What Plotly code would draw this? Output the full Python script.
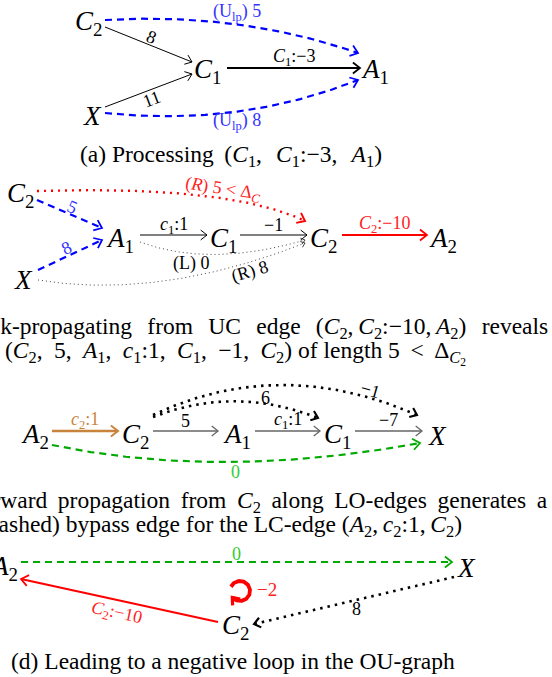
import numpy as np
import plotly.graph_objects as go

W, H = 552, 677

# ------------------------------------------------------------------ data
NODE_TEXT = {
    "C1": "<i>C</i><sub>1</sub>", "C2": "<i>C</i><sub>2</sub>", "C2a": "<i>C</i><sub>2</sub>",
    "A1": "<i>A</i><sub>1</sub>", "A2": "<i>A</i><sub>2</sub>", "X": "<i>X</i>",
}

# panel (a)
A_SRC = ["C2", "X", "C1", "C2", "X"]
A_DST = ["C1", "C1", "A1", "A1", "A1"]
A_W = [8, 11, -3, 5, 8]
A_PREFIX = ["", "", "<i>C</i><sub>1</sub>:", "(U<sub>lp</sub>) ", "(U<sub>lp</sub>) "]
A_SUFFIX = ["", "", "", "", ""]

# panel (b)
B_SRC = ["C2a", "X", "A1", "C1", "C2", "C2a", "A1", "X"]
B_DST = ["A1", "A1", "C1", "C2", "A2", "C2", "C2", "C2"]
B_W = [5, 8, 1, -1, -10, 5, 0, 8]
B_PREFIX = ["", "", "<i>c</i><sub>1</sub>:", "", "<i>C</i><sub>2</sub>:", "(<i>R</i>) ", "(L) ", "(R) "]
B_SUFFIX = ["", "", "", "", "", " &lt; Δ<sub><i>C</i></sub>", "", ""]

# panel (c)
C_SRC = ["A2", "C2", "A1", "C1", "C2", "C2", "A2"]
C_DST = ["C2", "A1", "C1", "X", "C1", "X", "X"]
C_W = [1, 5, 1, -7, 6, -1, 0]
C_PREFIX = ["<i>c</i><sub>2</sub>:", "", "<i>c</i><sub>1</sub>:", "", "", "", ""]
C_SUFFIX = ["", "", "", "", "", "", ""]

# panel (d)
D_SRC = ["A2", "C2", "X"]
D_DST = ["X", "A2", "C2"]
D_W = [0, -10, 8]
D_PREFIX = ["", "<i>C</i><sub>2</sub>:", ""]
D_SUFFIX = ["", "", ""]
D_LOOP_NODE = "C2"
D_LOOP_W = -2

TS = "\u2009"            # thin space (math spacing)
HS = "\u200a"            # hair space
SP = " \u2009"           # justified (stretched) word space
SP2 = " \u2009\u2009"    # more stretched word space
MC = "," + TS * 2 + HS   # math comma
CAPTIONS = [
    "(a) Processing" + TS + " (<i>C</i><sub>1</sub>," + TS * 3 + "<i>C</i><sub>1</sub>:−3," + TS * 3
    + "<i>A</i><sub>1</sub>)",
    SP2.join(["(b)", "Back-propagating", "from", "UC", "edge",
              "(<i>C</i><sub>2</sub>," + TS + "<i>C</i><sub>2</sub>:−10," + TS + "<i>A</i><sub>2</sub>)",
              "reveals"]),
    "(<i>C</i><sub>2</sub>" + MC + "5" + MC + "<i>A</i><sub>1</sub>" + MC + "<i>c</i><sub>1</sub>:1"
    + MC + "<i>C</i><sub>1</sub>" + MC + "−1" + MC + "<i>C</i><sub>2</sub>) of length 5" + SP + "&lt;"
    + SP + "Δ<sub><i>C</i><sub>2</sub></sub>",
    SP.join(["(c)", "Forward", "propagation", "from", "<i>C</i><sub>2</sub>", "along", "LO-edges",
             "generates", "a"]),
    "(dashed) bypass edge for the LC-edge (<i>A</i><sub>2</sub>," + TS + "<i>c</i><sub>2</sub>:1,"
    + TS + "<i>C</i><sub>2</sub>)",
    "(d) Leading to a negative loop in the OU-graph",
]

# ------------------------------------------------------------------ layout (positions / styles)
POS_A = {"C2": (88, 20), "C1": (207, 68), "A1": (375, 68), "X": (92, 113)}
POS_B = {"C2a": (20, 192), "A1": (120, 237), "C1": (223, 237), "C2": (323, 237),
         "A2": (443, 237), "X": (23, 277)}
POS_C = {"A2": (35, 433), "C2": (135, 433), "A1": (237, 433), "C1": (337, 433), "X": (437, 433)}
POS_D = {"A2": (4, 565), "X": (466, 565), "C2": (235, 624)}

# per edge: start offset, end offset, control offset (from chord mid), style,
#           label t, label distance, sloped
GEO_A = [
    ((17, 7), (-15, -6), (0, 0), "thin", 0.5, 8, True),
    ((13, -6), (-15, 6), (0, 0), "thin", 0.5, -9, True),
    ((20, 0), (-15, 0), (0, 0), "thick", 0.5, 11, False),
    ((17, 0), (-17, -15), (8.5, -24.5), "blue", 0.5, 12, False),
    ((13, 0), (-17, 12), (8.5, 30.5), "blue", 0.5, -10, False),
]
GEO_B = [
    ((17, 8), (-18, -9), (0, 0), "blue", 0.5, 8, True),
    ((15, -7), (-18, 3), (0, 0), "blue", 0.5, 8, True),
    ((20, -2), (-16, -2), (0, 0), "thin", 0.5, 10, False),
    ((17, -2), (-16, -2), (0, 0), "thin", 0.5, 10, False),
    ((19, -2), (-16, -2), (0, 0), "red", 0.5, 11, False),
    ((17, -1), (-18, -16), (59, -21), "reddot", 0.58, 9, True),
    ((20, 5), (-18, 3), (-12.5, 27), "graydot", 0.35, -10, False),
    ((15, 3), (-18, 6), (-11.5, 38.5), "graydot", 0.8, -9, True),
]
GEO_C = [
    ((17, -2), (-17, -2), (0, 0), "peru", 0.5, 11, False),
    ((18, -2), (-19, -2), (0, 0), "gray", 0.5, 10, False),
    ((18, -2), (-17, -2), (0, 0), "gray", 0.5, 11, False),
    ((18, -2), (-15, -2), (0, 0), "gray", 0.5, 11, False),
    ((18, -16), (-19, -15), (-0.5, -32.5), "blackdot", 0.68, 6, False),
    ((18, -18), (-20, -18), (-5, -60), "blackdot", 0.82, 8, True),
    ((17, 12), (-17, 10), (-16, 36), "green", 0.52, -10, False),
]
GEO_D = [
    ((17, -3), (-14, -3), (0, 0), "green", 0.5, 8, False),
    ((-17, -2), (17, 14), (0, 0), "red", 0.5, 13, True),
    ((-12, 12), (19, 0), (0, 0), "blackdot", 0.5, 9, False),
]
LOOP_OFF = (5, -33)
LOOP_R = 10

STYLES = {
    "thin": dict(color="#000000", width=1.0, dash="solid", head=8, text="#000000"),
    "thick": dict(color="#000000", width=2.2, dash="solid", head=9, text="#000000"),
    "blue": dict(color="#0000FF", width=2.2, dash="7px,5px", head=9, text="#3333FF"),
    "red": dict(color="#FF0000", width=2.2, dash="solid", head=9, text="#FF2222"),
    "reddot": dict(color="#FF0000", width=2.4, dash="2px,5px", head=9, text="#FF2222"),
    "graydot": dict(color="#444444", width=1.0, dash="1px,3px", head=5, text="#000000"),
    "peru": dict(color="#C8843C", width=2.5, dash="solid", head=9, text="#C8843C"),
    "gray": dict(color="#666666", width=1.6, dash="solid", head=8, text="#000000"),
    "blackdot": dict(color="#000000", width=2.6, dash="2.5px,5px", head=8, text="#000000"),
    "green": dict(color="#00AA00", width=2.2, dash="7px,5px", head=9, text="#33CC33"),
}

SERIF = "Liberation Serif"
NODE_SIZE = 27
LABEL_SIZE = 18
CAP_SIZE = 23.5


def fmt(w):
    return ("−" + str(abs(w))) if w < 0 else str(w)


def bez(P0, P1, P2, n=80):
    t = np.linspace(0, 1, n)[:, None]
    return (1 - t) ** 2 * P0 + 2 * (1 - t) * t * P1 + t ** 2 * P2


def rot(v, a):
    c, s = np.cos(a), np.sin(a)
    return np.array([c * v[0] - s * v[1], s * v[0] + c * v[1]])


fig = go.Figure()
annotations = []


def add_head(tip, u, st):
    L = st["head"]
    a = np.radians(38)
    l = tip - L * rot(u, a)
    r = tip - L * rot(u, -a)
    fig.add_trace(go.Scatter(x=[l[0], tip[0], r[0]], y=[l[1], tip[1], r[1]], mode="lines",
                             line=dict(color=st["color"], width=max(1.0, st["width"] * 0.8)),
                             hoverinfo="skip"))


def draw_panel(pos, src, dst, wts, pre, suf, geo):
    for name, (x, y) in pos.items():
        annotations.append(dict(x=x, y=y, text=NODE_TEXT[name], showarrow=False,
                                font=dict(family=SERIF, size=NODE_SIZE, color="#000"),
                                xanchor="center", yanchor="middle", yshift=-3))
    for s, d, w, p, sf, g in zip(src, dst, wts, pre, suf, geo):
        so, eo, co, sname, lt, ld, sloped = g
        st = STYLES[sname]
        P0 = np.array(pos[s], float) + np.array(so, float)
        P2 = np.array(pos[d], float) + np.array(eo, float)
        P1 = (P0 + P2) / 2 + np.array(co, float)
        pts = bez(P0, P1, P2)
        fig.add_trace(go.Scatter(x=pts[:, 0], y=pts[:, 1], mode="lines",
                                 line=dict(color=st["color"], width=st["width"], dash=st["dash"]),
                                 hoverinfo="skip"))
        tv = P2 - P1
        add_head(P2, tv / np.linalg.norm(tv), st)
        t = lt
        B = (1 - t) ** 2 * P0 + 2 * (1 - t) * t * P1 + t ** 2 * P2
        dv = 2 * (1 - t) * (P1 - P0) + 2 * t * (P2 - P1)
        u = dv / np.linalg.norm(dv)
        n = np.array([u[1], -u[0]])
        L = B + ld * n
        ang = np.degrees(np.arctan2(u[1], u[0]))
        if ang > 90:
            ang -= 180
        if ang < -90:
            ang += 180
        annotations.append(dict(x=L[0], y=L[1], text=p + fmt(w) + sf, showarrow=False,
                                textangle=ang if sloped else 0,
                                font=dict(family=SERIF, size=LABEL_SIZE, color=st["text"]),
                                xanchor="center", yanchor="middle"))


draw_panel(POS_A, A_SRC, A_DST, A_W, A_PREFIX, A_SUFFIX, GEO_A)
draw_panel(POS_B, B_SRC, B_DST, B_W, B_PREFIX, B_SUFFIX, GEO_B)
draw_panel(POS_C, C_SRC, C_DST, C_W, C_PREFIX, C_SUFFIX, GEO_C)
draw_panel(POS_D, D_SRC, D_DST, D_W, D_PREFIX, D_SUFFIX, GEO_D)

# negative self-loop in panel (d)
c = np.array(POS_D[D_LOOP_NODE], float) + np.array(LOOP_OFF, float)
th = np.radians(np.linspace(205, 500, 80))
fig.add_trace(go.Scatter(x=c[0] + LOOP_R * np.cos(th), y=c[1] + LOOP_R * np.sin(th), mode="lines",
                         line=dict(color="#FF0000", width=3.8), hoverinfo="skip"))
te = th[-1]
tip = c + LOOP_R * np.array([np.cos(te), np.sin(te)])
u = np.array([-np.sin(te), np.cos(te)])
add_head(tip, u, dict(color="#FF0000", width=4.0, head=8))
annotations.append(dict(x=c[0] + 27, y=c[1] - 2, text=fmt(D_LOOP_W), showarrow=False,
                        font=dict(family=SERIF, size=LABEL_SIZE + 1, color="#FF2222")))

# captions: (x, y, anchor, xshift)
CAP_POS = [(231, 156, "center", 0), (550, 328, "right", 0), (3, 352, "left", 0),
           (550, 502, "right", 0), (0, 526, "left", -23), (9, 661, "left", 0)]
for txt, (x, y, anc, xs) in zip(CAPTIONS, CAP_POS):
    annotations.append(dict(x=x, y=y, text=txt, showarrow=False, xanchor=anc, yanchor="middle",
                            xshift=xs, font=dict(family=SERIF, size=CAP_SIZE, color="#000")))

fig.update_layout(
    width=W, height=H, margin=dict(l=0, r=0, t=0, b=0),
    paper_bgcolor="white", plot_bgcolor="white", showlegend=False,
    xaxis=dict(range=[0, W], visible=False, fixedrange=True),
    yaxis=dict(range=[H, 0], visible=False, fixedrange=True),
    annotations=annotations,
)
fig.write_html("out.html")
